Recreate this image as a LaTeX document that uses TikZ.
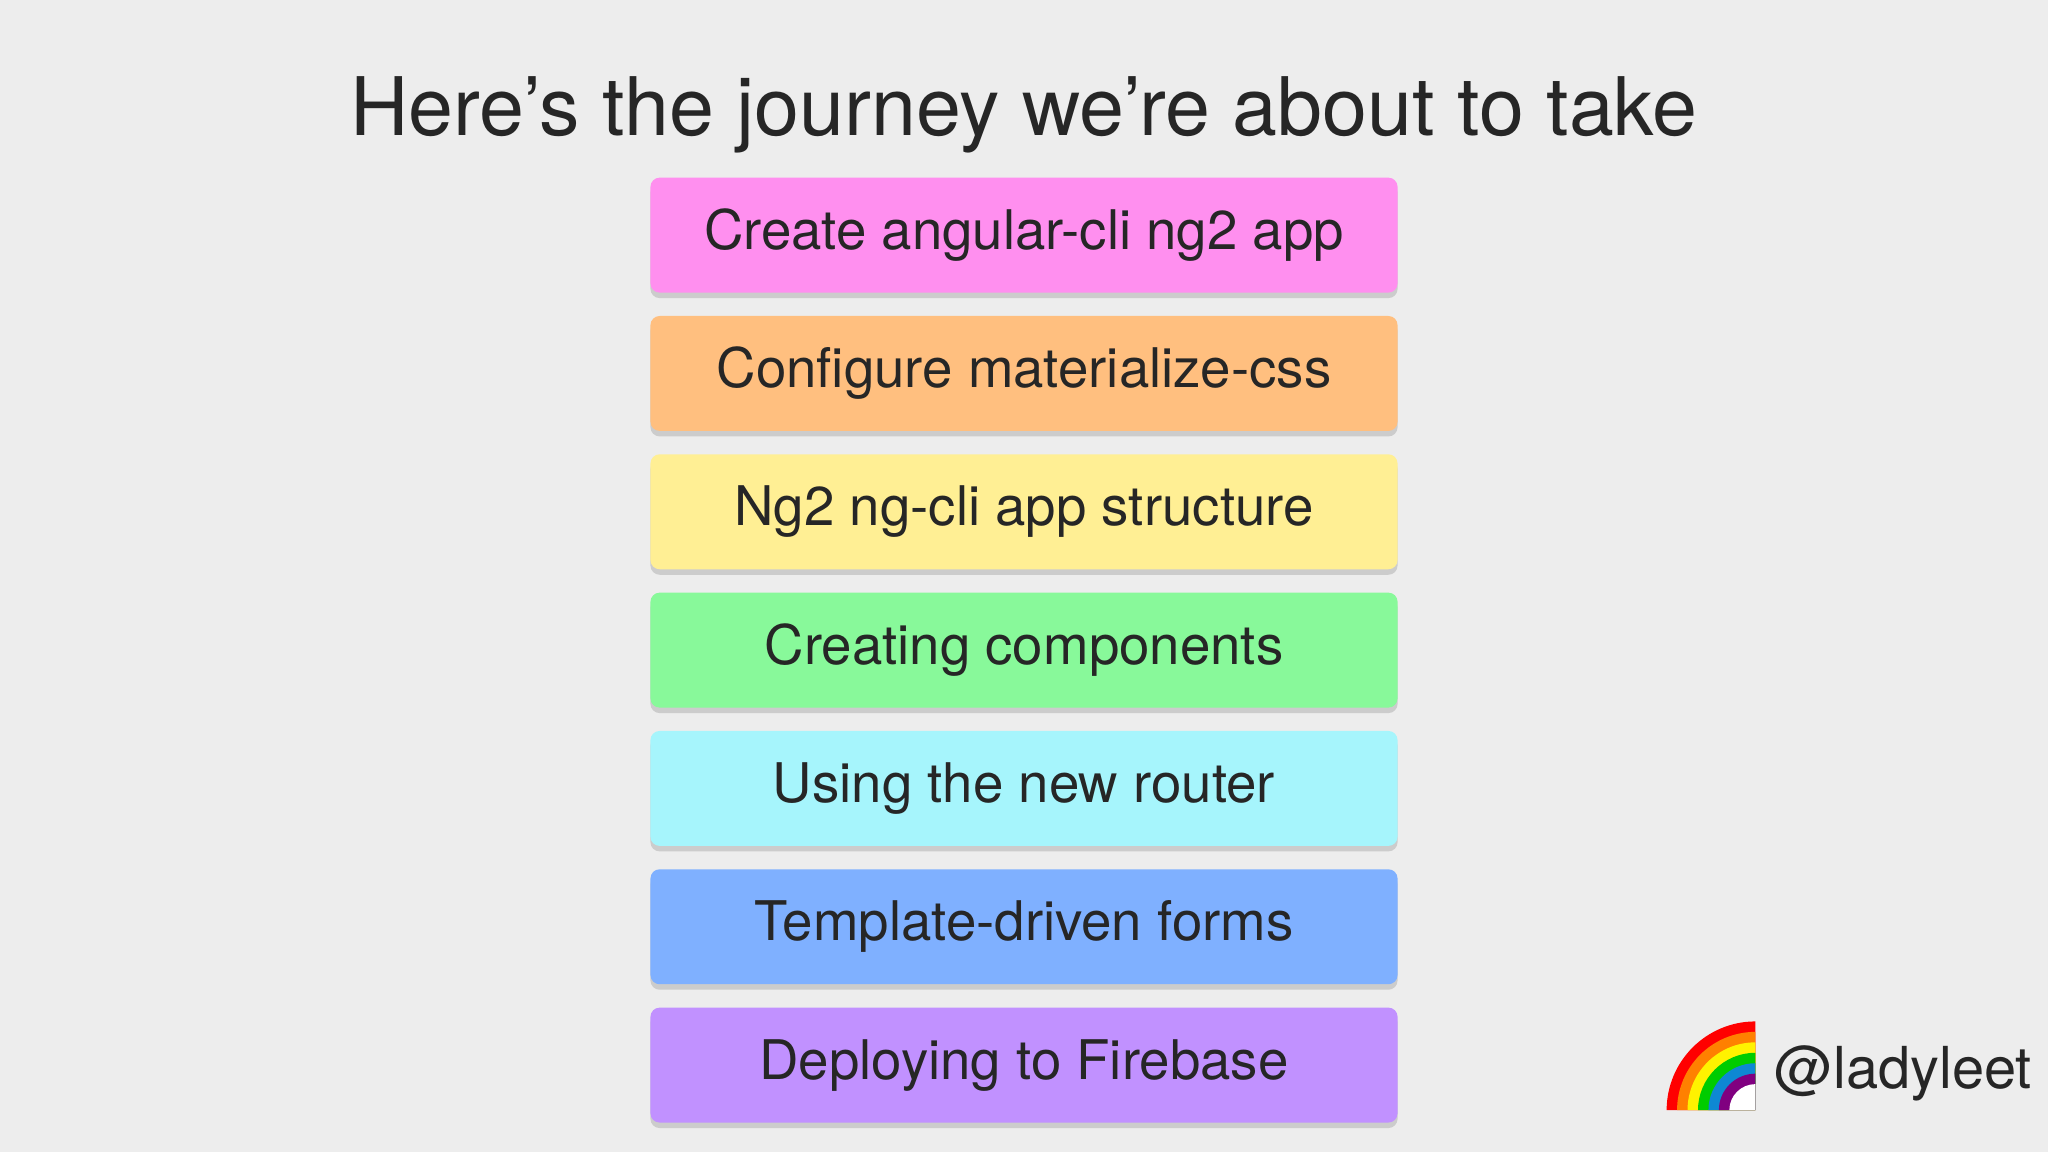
\documentclass[tikz,border=0pt]{standalone}
\usepackage{fontspec}
\setmainfont{TeX Gyre Heros}
\usetikzlibrary{positioning,shadows}
\definecolor{bg}{HTML}{EDEDED}
\definecolor{cpink}{HTML}{FF8FEF}
\definecolor{corange}{HTML}{FFBF7F}
\definecolor{cyellow}{HTML}{FFEF94}
\definecolor{cgreen}{HTML}{88F99A}
\definecolor{ccyan}{HTML}{A6F5FC}
\definecolor{cblue}{HTML}{7FB0FF}
\definecolor{cpurple}{HTML}{C191FF}
\tikzset{
  stepbox/.style={rounded corners=2pt, minimum width=5.72cm, minimum height=0.88cm,
    font=\fontsize{11.9}{14}\selectfont, text=black!85,
    drop shadow={opacity=0.3, shadow xshift=0pt, shadow yshift=-1.2pt}},
}
\begin{document}
\begin{tikzpicture}
  \fill[bg] (0,0) rectangle (15.68,-8.82);
  \useasboundingbox (0,0) rectangle (15.68,-8.82);

  \node[text=black!85] (title) at (7.84,-0.88) {\fontsize{17.6}{20}\selectfont Here’s the journey we’re about to take};

  \node[stepbox, fill=cpink] (s1) at (7.84,-1.80) {Create angular-cli ng2 app};
  \node[stepbox, fill=corange, below=0.165cm of s1] (s2) {Configure materialize-css};
  \node[stepbox, fill=cyellow, below=0.165cm of s2] (s3) {Ng2 ng-cli app structure};
  \node[stepbox, fill=cgreen, below=0.165cm of s3] (s4) {Creating components};
  \node[stepbox, fill=ccyan, below=0.165cm of s4] (s5) {Using the new router};
  \node[stepbox, fill=cblue, below=0.165cm of s5] (s6) {Template-driven forms};
  \node[stepbox, fill=cpurple, below=0.165cm of s6] (s7) {Deploying to Firebase};

  % rainbow
  \foreach \r/\c in {0.68/red, 0.60/orange, 0.52/yellow, 0.44/green!80!black, 0.36/cyan!70!blue, 0.28/violet}
    \fill[\c] (13.44-\r,-8.50) arc (180:90:\r) -- (13.44,-8.50) -- cycle;
  \fill[white] (13.44-0.20,-8.50) arc (180:90:0.20) -- (13.44,-8.50) -- cycle;

  \node[anchor=west, text=black!85, inner sep=0pt] (handle) at (13.58,-8.22) {\fontsize{12.6}{15}\selectfont @ladyleet};
\end{tikzpicture}
\end{document}
